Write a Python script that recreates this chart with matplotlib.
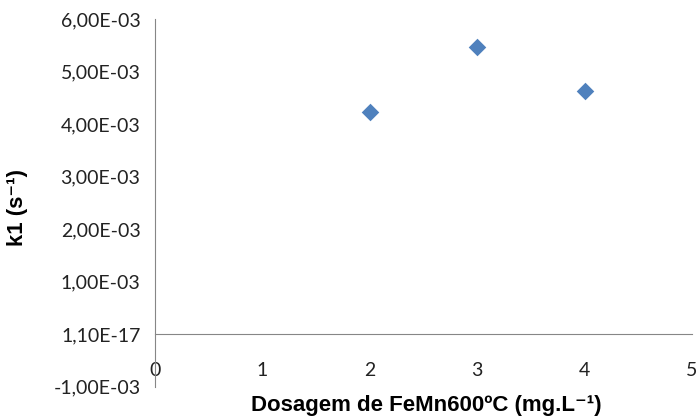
import matplotlib
matplotlib.use("Agg")
import matplotlib.pyplot as plt

# Rate constant k1 versus FeMn600ºC dosage
dosage = [2, 3, 4]
k1 = [4.22e-3, 5.47e-3, 4.62e-3]

x_ticks = [0, 1, 2, 3, 4, 5]
y_ticks = [-1e-3, 0.0, 1e-3, 2e-3, 3e-3, 4e-3, 5e-3, 6e-3]
y_tick_labels = ["-1,00E-03", "1,10E-17", "1,00E-03", "2,00E-03",
                 "3,00E-03", "4,00E-03", "5,00E-03", "6,00E-03"]

plt.rcParams["mathtext.default"] = "regular"

fig = plt.figure(figsize=(7.0, 4.17), dpi=100)
ax = fig.add_axes([155 / 700, 1 - 386.5 / 417, (692 - 155) / 700, (386.5 - 19) / 417])

axis_color = "#868686"
ax.scatter(dosage, k1, marker="D", s=80, color="#4F81BD", zorder=3, linewidths=0)

ax.set_xlim(0, 5)
ax.set_ylim(-1e-3, 6e-3)

for side in ("top", "right"):
    ax.spines[side].set_visible(False)
ax.spines["left"].set_color(axis_color)
ax.spines["bottom"].set_color(axis_color)
ax.spines["bottom"].set_position(("data", 0))

tick_font = dict(family="Lato", size=14, color="#222222")
ax.set_xticks(x_ticks)
ax.set_xticklabels([str(v) for v in x_ticks], **tick_font)
ax.set_yticks(y_ticks)
ax.set_yticklabels(y_tick_labels, **tick_font)
ax.tick_params(axis="x", length=0, pad=20.5)
ax.tick_params(axis="y", length=0, pad=10.5)

label_font = dict(family=["Liberation Sans", "DejaVu Sans"], weight="bold",
                  size=16, color="#000000")
fig.text(18 / 700, 1 - 208 / 417, "k1 (s\u207b\u00b9)", rotation=90,
         ha="center", va="center", **label_font)
fig.text(426 / 700, 1 - 411 / 417, "Dosagem de FeMn600ºC (mg.L\u207b\u00b9)",
         ha="center", va="baseline", **label_font)

fig.savefig("out.png", dpi=100)
